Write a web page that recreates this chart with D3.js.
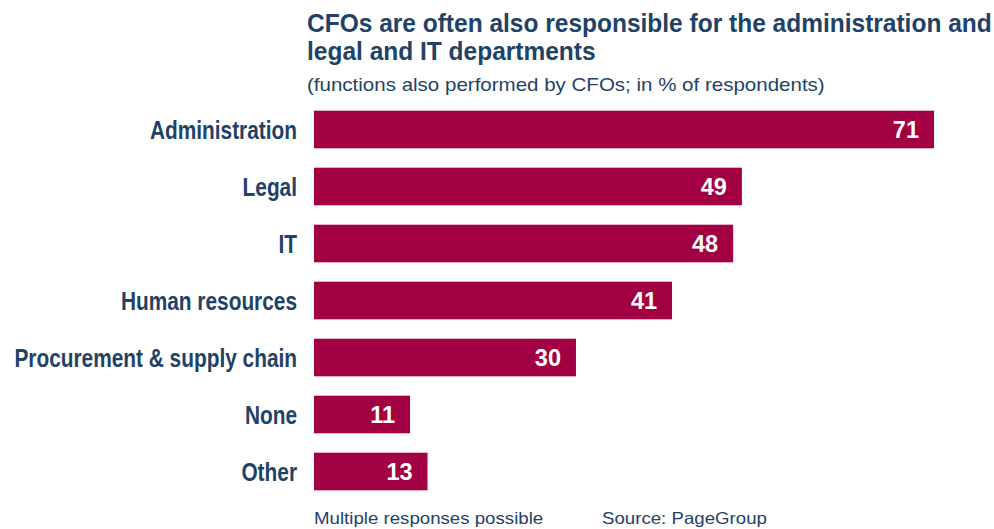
<!DOCTYPE html>
<html>
<head>
<meta charset="utf-8">
<script src="https://cdn.jsdelivr.net/npm/d3@7"></script>
<style>
  html, body { margin: 0; padding: 0; background: #fff; }
  svg { display: block; }
</style>
</head>
<body>
<svg id="chart" width="994" height="529"></svg>
<script>
// Functions also performed by CFOs (% of respondents)
const categories = ["Administration", "Legal", "IT", "Human resources", "Procurement & supply chain", "None", "Other"];
const values = [71, 49, 48, 41, 30, 11, 13];

const titleLines = ["CFOs are often also responsible for the administration and", "legal and IT departments"];
const subtitle = "(functions also performed by CFOs; in % of respondents)";
const noteText = "Multiple responses possible";
const sourceText = "Source: PageGroup";

const textColor = "#1f4266";
const barColor = "#a20042";
const font = "'Liberation Sans', Arial, Helvetica, sans-serif";

const svg = d3.select("#chart");

const x = d3.scaleLinear().domain([0, 71]).range([314, 934]);
const y = d3.scaleBand().domain(categories).range([101, 500]).paddingInner(0.34).paddingOuter(0.17);

// Text helper: places a text at (tx, ty) with a horizontal stretch factor
function label(g, tx, ty, sx) {
  return g.append("text")
    .attr("transform", `translate(${tx},${ty}) scale(${sx},1)`)
    .attr("fill", textColor)
    .attr("font-family", font);
}

// Title and subtitle
titleLines.forEach((t, i) => {
  label(svg, 307, 32 + i * 28, 0.98)
    .attr("font-weight", "bold").attr("font-size", 25)
    .text(t);
});

label(svg, 307, 90.5, 1.14)
  .attr("font-size", 18)
  .text(subtitle);

// Bars
svg.append("g").selectAll("rect").data(values).join("rect")
  .attr("x", x(0))
  .attr("y", (d, i) => y(categories[i]))
  .attr("width", d => x(d) - x(0))
  .attr("height", y.bandwidth())
  .attr("fill", barColor);

// Value labels inside bars
svg.append("g").selectAll("text").data(values).join("text")
  .attr("x", d => x(d) - 15)
  .attr("y", (d, i) => y(categories[i]) + y.bandwidth() / 2)
  .attr("dy", "0.36em")
  .attr("text-anchor", "end")
  .attr("fill", "#fff")
  .attr("font-family", font).attr("font-weight", "bold").attr("font-size", 23.5)
  .text(d => d);

// Category labels, right-aligned against the bars
svg.append("g").selectAll("text").data(categories).join("text")
  .attr("transform", d => `translate(297,${y(d) + y.bandwidth() / 2}) scale(0.787,1)`)
  .attr("dy", "0.36em")
  .attr("text-anchor", "end")
  .attr("fill", textColor)
  .attr("font-family", font).attr("font-weight", "bold").attr("font-size", 26.5)
  .text(d => d);

// Footer
label(svg, 314, 524.3, 1.145).attr("font-size", 16.3).text(noteText);
label(svg, 602, 524.3, 1.145).attr("font-size", 16.3).text(sourceText);
</script>
</body>
</html>
